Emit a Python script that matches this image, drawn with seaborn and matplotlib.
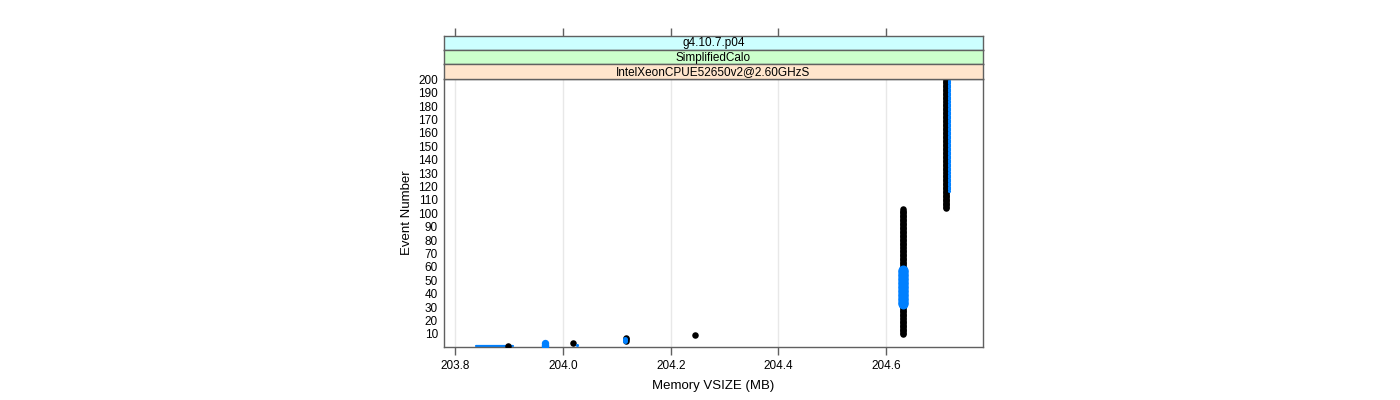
import numpy as np
import pandas as pd
import matplotlib
matplotlib.use("Agg")
import matplotlib.pyplot as plt
import seaborn as sns

# ---------------- data ----------------
strip_labels = ["g4.10.7.p04", "SimplifiedCalo", "IntelXeonCPUE52650v2@2.60GHzS"]
strip_colors = ["#CCFFFF", "#CCFFCC", "#FFE5CC"]

x_ticks = [203.8, 204.0, 204.2, 204.4, 204.6]
y_ticks = list(range(10, 201, 10))

# black series: memory value, first and last event number with that value
black_mem = [203.898, 204.019, 204.116, 204.246, 204.632, 204.711]
black_first = [1, 3, 5, 9, 10, 104]
black_last = [1, 3, 7, 9, 103, 200]

# blue series: memory value, first and last event number with that value
blue_mem = [203.966, 204.025, 204.1155, 204.632, 204.7175]
blue_first = [1, 2, 5, 32, 117]
blue_last = [3, 2, 6, 58, 200]

# blue horizontal stretch at the first event
blue_line_mem = [203.838, 203.906]
blue_line_event = [1, 1]

# styles (marker areas in pt^2)
black_size = 22
blue_sizes = [28, 5, 13, 52, 5]
BLUE = "#0080FF"
AXCOL = "#606060"


def expand(mem, first, last):
    rows = []
    for i, (m, a, b) in enumerate(zip(mem, first, last)):
        for e in range(a, b + 1):
            rows.append({"mem": m, "event": e, "run": i})
    return pd.DataFrame(rows)


black_df = expand(black_mem, black_first, black_last)
blue_df = expand(blue_mem, blue_first, blue_last)
blue_line_df = pd.DataFrame({"mem": blue_line_mem, "event": blue_line_event})

# ---------------- figure ----------------
sns.set_style("white")
plt.rcParams["font.family"] = ["Liberation Sans", "DejaVu Sans"]
plt.rcParams["text.color"] = "black"
plt.rcParams["axes.labelcolor"] = "black"
plt.rcParams["xtick.color"] = "black"
plt.rcParams["ytick.color"] = "black"

W, H = 1400, 400
fig = plt.figure(figsize=(W / 100, H / 100), dpi=100)

L, R, T, B = 443.5, 983.3, 79.0, 347.3
ax = fig.add_axes([L / W, 1 - B / H, (R - L) / W, (B - T) / H])

xlim = (203.7777, 204.781)
ylim = (0.0, 200.3)

for xt in x_ticks:
    ax.axvline(xt, color="#E8E8E8", lw=1, zorder=0)

sns.lineplot(data=blue_line_df, x="mem", y="event", ax=ax, color=BLUE, lw=1.6,
             sort=False, zorder=2)
sns.scatterplot(data=black_df, x="mem", y="event", ax=ax, color="black",
                s=black_size, linewidth=0, zorder=3)
for i in range(len(blue_mem)):
    sub = blue_df[blue_df["run"] == i]
    sns.scatterplot(data=sub, x="mem", y="event", ax=ax, color=BLUE,
                    s=blue_sizes[i], linewidth=0, zorder=4)

ax.set_xlim(*xlim)
ax.set_ylim(*ylim)
ax.set_xticks(x_ticks)
ax.set_xticklabels([f"{v:.1f}" for v in x_ticks])
ax.set_yticks(y_ticks)
ax.set_yticklabels([str(v) for v in y_ticks])
ax.tick_params(axis="x", direction="out", length=6, width=1, color=AXCOL,
               labelcolor="black", labelsize=8.5, pad=3, bottom=True)
ax.tick_params(axis="y", length=0, labelsize=8.5, pad=4, left=True,
               labelcolor="black")
for s in ax.spines.values():
    s.set_color(AXCOL)
    s.set_linewidth(1)
ax.set_xlabel("Memory VSIZE (MB)", fontsize=9.5, labelpad=6, color="black")
ax.set_ylabel("Event Number", fontsize=9.5, labelpad=4, color="black")
if ax.get_legend():
    ax.get_legend().remove()

# strips (top to bottom)
strip_edges = [35.5, 49.8, 64.4, 79.0]
for i, (lab, col) in enumerate(zip(strip_labels, strip_colors)):
    top, bot = strip_edges[i], strip_edges[i + 1]
    sax = fig.add_axes([L / W, 1 - bot / H, (R - L) / W, (bot - top) / H])
    sax.set_facecolor(col)
    sax.set_xlim(*xlim)
    sax.set_ylim(0, 1)
    sax.set_yticks([])
    sax.text(0.5, 0.45, lab, transform=sax.transAxes, ha="center", va="center",
             fontsize=8.5, color="black")
    for s in sax.spines.values():
        s.set_color(AXCOL)
        s.set_linewidth(1)
    if i == 0:
        sax.set_xticks(x_ticks)
        sax.tick_params(axis="x", top=True, bottom=False, labeltop=False,
                        labelbottom=False, direction="out", length=6, width=1,
                        color=AXCOL)
    else:
        sax.set_xticks([])

fig.savefig("out.png", dpi=100)
